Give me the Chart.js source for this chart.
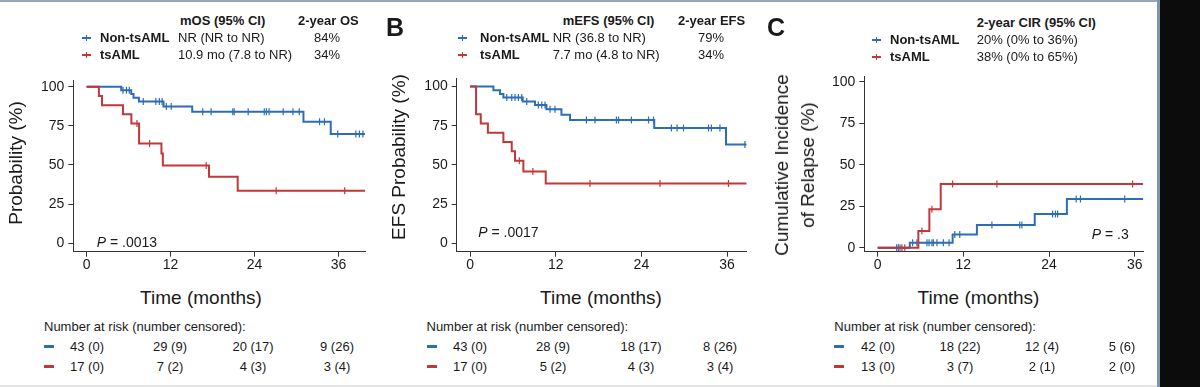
<!DOCTYPE html>
<html>
<head>
<meta charset="utf-8">
<script src="https://cdn.jsdelivr.net/npm/chart.js@4.4.1/dist/chart.umd.min.js"></script>
<style>
  html, body { margin: 0; padding: 0; background: #fff; }
  body { width: 1200px; height: 387px; position: relative; overflow: hidden;
         font-family: 'Liberation Sans', Arial, Helvetica, sans-serif; color: #1a1a1a; }
  canvas { position: absolute; }
  .t { position: absolute; white-space: nowrap; font-size: 13px; line-height: 16px; }
  .b { font-weight: bold; }
  .c { transform: translateX(-50%); }
  .ax { font-size: 19px; line-height: 24px; }
  .rot { position: absolute; white-space: nowrap; font-size: 19px; line-height: 26px; text-align: center;
         transform: translate(-50%, -50%) rotate(-90deg); }
  .letter { position: absolute; font-size: 25px; font-weight: bold; line-height: 26px; }
  .box { position: absolute; }
</style>
</head>
<body>
<canvas id="chartA" width="380" height="225" style="left:0px;top:60px"></canvas>
<canvas id="chartB" width="390" height="225" style="left:380px;top:60px"></canvas>
<canvas id="chartC" width="390" height="225" style="left:770px;top:60px"></canvas>
<script>
const BLUE = '#2d6db5';
const RED = '#c1373a';

const months = [0, 12, 24, 36];
const yTicks = [0, 25, 50, 75, 100];

// A: overall survival
const osNonT = [0, 4.95, 6.38, 6.71, 7.48, 11.0, 15.1, 31.0, 34.9, 39.8];
const osNonS = [100, 97.7, 95.3, 93.0, 90.5, 87.3, 84.0, 77.6, 69.8, 69.8];
const osNonC = [5.2, 5.7, 6.1, 8.1, 9.9, 10.4, 10.8, 11.4, 12.1, 16.6, 17.8, 20.9, 21.1, 23.1,
                25.4, 25.7, 26.1, 28.1, 29.5, 30.4, 33.3, 34.0, 35.9, 38.5, 39.0, 39.5];
const osTsT = [0, 1.76, 2.2, 5.2, 6.4, 7.5, 10.7, 10.9, 17.5, 21.6, 39.8];
const osTsS = [100, 94.1, 88.2, 82.4, 76.5, 63.7, 57.3, 49.7, 42.5, 33.6, 33.6];
const osTsC = [7.2, 9.0, 17.1, 27.1, 36.9];

// B: event-free survival
const efsNonT = [0, 3.27, 4.2, 4.67, 7.38, 9.1, 10.7, 12.8, 14.0, 25.8, 35.85, 38.75];
const efsNonS = [100, 97.7, 95.3, 93.0, 90.5, 88.2, 85.5, 82.0, 78.7, 73.5, 63.0, 63.0];
const efsNonC = [5.14, 5.84, 6.3, 6.77, 7.24, 7.94, 9.57, 10.04, 10.5, 11.2, 11.9, 16.3, 17.5,
                 20.5, 20.8, 22.6, 25.0, 25.7, 28.2, 29.0, 29.9, 33.4, 33.8, 35.0, 38.5];
const efsTsT = [0, 0.84, 1.5, 2.5, 4.67, 5.84, 6.3, 7.47, 10.6, 38.75];
const efsTsS = [100, 82.4, 76.4, 70.6, 64.7, 58.8, 52.6, 45.8, 38.2, 38.2];
const efsTsC = [6.9, 8.8, 16.8, 26.6, 36.2];

// C: cumulative incidence of relapse
const cirNonT = [0, 4.5, 10.5, 13.9, 22.0, 26.5, 37.2];
const cirNonS = [0, 3.0, 8.0, 13.7, 20.3, 29.3, 29.3];
const cirNonC = [2.66, 2.9, 3.13, 4.9, 5.5, 6.9, 7.2, 7.6, 7.8, 8.3, 9.2, 10.0, 10.8, 11.5,
                 16.0, 19.9, 20.2, 24.5, 24.9, 25.2, 27.8, 28.4, 34.6];
const cirTsT = [0, 5.7, 7.24, 8.83, 37.2];
const cirTsS = [0, 10.0, 23.1, 38.4, 38.4];
const cirTsC = [3.4, 3.8, 6.2, 7.6, 10.5, 16.7, 35.7];

// number at risk (number censored)
const riskOsNon = ['43 (0)', '29 (9)', '20 (17)', '9 (26)'];
const riskOsTs = ['17 (0)', '7 (2)', '4 (3)', '3 (4)'];
const riskEfsNon = ['43 (0)', '28 (9)', '18 (17)', '8 (26)'];
const riskEfsTs = ['17 (0)', '5 (2)', '4 (3)', '3 (4)'];
const riskCirNon = ['42 (0)', '18 (22)', '12 (4)', '5 (6)'];
const riskCirTs = ['13 (0)', '3 (7)', '2 (1)', '2 (0)'];

function stepPts(t, s) {
  return t.map((x, i) => ({x: x, y: s[i]}));
}

// censor ticks sit on the curve level at that time
function levelAt(t, s, x) {
  let v = s[0];
  for (let i = 0; i < t.length; i++) {
    if (t[i] <= x) v = s[i];
  }
  return v;
}

function censPts(c, t, s) {
  return c.map(x => ({x: x, y: levelAt(t, s, x)}));
}

function curve(t, s, color) {
  return {data: stepPts(t, s), showLine: true, stepped: true, borderColor: color,
          borderWidth: 2, pointRadius: 0, fill: false};
}

function ticksOf(c, t, s, color) {
  return {data: censPts(c, t, s), showLine: false, pointStyle: 'line', rotation: 90,
          pointRadius: 3.5, borderColor: color, borderWidth: 1.2};
}

function makePanel(id, p) {
  const ctx = document.getElementById(id).getContext('2d');
  return new Chart(ctx, {
    type: 'scatter',
    data: {
      datasets: [
        curve(p.tsT, p.tsS, RED),
        ticksOf(p.tsC, p.tsT, p.tsS, RED),
        curve(p.nonT, p.nonS, BLUE),
        ticksOf(p.nonC, p.nonT, p.nonS, BLUE),
      ],
    },
    options: {
      responsive: false,
      animation: false,
      events: [],
      layout: {padding: {left: 0, top: p.padTop, right: p.padRight, bottom: 0}},
      plugins: {legend: {display: false}, tooltip: {enabled: false}},
      scales: {
        x: {
          type: 'linear', min: p.xMin, max: p.xMax,
          afterBuildTicks: (s) => { s.ticks = months.map(v => ({value: v})); },
          afterFit: (s) => { s.height = 33.3; },
          grid: {drawOnChartArea: false, tickLength: 5, color: '#333'},
          border: {display: true, color: '#333', width: 1},
          ticks: {padding: 0, color: '#1a1a1a', font: {family: 'Liberation Sans', size: 14}},
        },
        y: {
          type: 'linear', min: p.yMin, max: p.yMax,
          afterBuildTicks: (s) => { s.ticks = yTicks.map(v => ({value: v})); },
          afterFit: (s) => { s.width = p.yWidth; },
          grid: {drawOnChartArea: false, tickLength: 5, color: '#333'},
          border: {display: true, color: '#333', width: 1},
          ticks: {padding: 4, color: '#1a1a1a', font: {family: 'Liberation Sans', size: 14}},
        },
      },
    },
  });
}

makePanel('chartA', {nonT: osNonT, nonS: osNonS, nonC: osNonC, tsT: osTsT, tsS: osTsS, tsC: osTsC,
  xMin: -1.9, xMax: 39.8, yMin: -5.4, yMax: 104.3, yWidth: 73.3, padTop: 20, padRight: 15});
makePanel('chartB', {nonT: efsNonT, nonS: efsNonS, nonC: efsNonC, tsT: efsTsT, tsS: efsTsS, tsC: efsTsC,
  xMin: -1.87, xMax: 38.75, yMin: -5.4, yMax: 105.3, yWidth: 76.7, padTop: 18.3, padRight: 23.3});
makePanel('chartC', {nonT: cirNonT, nonS: cirNonS, nonC: cirNonC, tsT: cirTsT, tsS: cirTsS, tsC: cirTsC,
  xMin: -1.87, xMax: 37.2, yMin: -2.4, yMax: 103, yWidth: 94.3, padTop: 16.7, padRight: 16.7});

// ---- text and decorations around the plots ----
function el(cls, html, left, top) {
  const d = document.createElement('div');
  d.className = cls;
  d.innerHTML = html;
  d.style.left = left + 'px';
  d.style.top = top + 'px';
  document.body.appendChild(d);
  return d;
}
function txt(html, x, cy, extra) {
  return el('t' + (extra ? ' ' + extra : ''), html, x, cy - 8);
}
function box(x, y, w, h, color) {
  const d = el('box', '', x, y);
  d.style.width = w + 'px';
  d.style.height = h + 'px';
  d.style.background = color;
}
function marker(x, cy, color) {
  box(x, cy - 1, 9, 2, color);
  box(x + 4, cy - 3, 1.2, 6, color);
}

function legend(x0, mx, nameX, valX, pctX, head1, head1X, head2, head2X, vals, pcts, hy) {
  txt(head1, head1X, hy, 'b');
  if (head2) txt(head2, head2X, hy, 'b');
  const rows = [[BLUE, 'Non-tsAML'], [RED, 'tsAML']];
  rows.forEach((r, i) => {
    const cy = hy + 17 + i * 17;
    marker(mx, cy, r[0]);
    txt(r[1], nameX, cy, 'b');
    txt(vals[i], valX, cy);
    if (pcts) txt(pcts[i], pctX, cy);
  });
}

legend(0, 82, 100, 178, 314, 'mOS (95% CI)', 180, '2-year OS', 298,
       ['NR (NR to NR)', '10.9 mo (7.8 to NR)'], ['84%', '34%'], 21);
legend(0, 458, 480, 552.7, 698, 'mEFS (95% CI)', 562.7, '2-year EFS', 678,
       ['NR (36.8 to NR)', '7.7 mo (4.8 to NR)'], ['79%', '34%'], 21);
legend(0, 872, 890, 976.7, 0, '2-year CIR (95% CI)', 976.7, null, 0,
       ['20% (0% to 36%)', '38% (0% to 65%)'], null, 22.5);

el('letter', 'B', 386, 14);
el('letter', 'C', 767, 14);

// P values
txt('<i>P</i> = .0013', 96.7, 241.7).style.fontSize = '14px';
txt('<i>P</i> = .0017', 478.3, 231.7).style.fontSize = '14px';
txt('<i>P</i> = .3', 1091.7, 234.3).style.fontSize = '14px';

// axis titles
el('t ax c', 'Time (months)', 201, 286);
el('t ax c', 'Time (months)', 601, 286);
el('t ax c', 'Time (months)', 978.5, 286);
el('rot', 'Probability (%)', 16, 163);
el('rot', 'EFS Probability (%)', 399, 157);
el('rot', 'Cumulative Incidence<br>of Relapse (%)', 795, 165);

// risk tables
function riskTable(x, cols, nonRow, tsRow) {
  txt('Number at risk (number censored):', x, 326.7);
  [[BLUE, nonRow, 346.7], [RED, tsRow, 366.7]].forEach(r => {
    box(x, r[2] - 1.5, 10, 3, r[0]);
    r[1].forEach((s, i) => txt(s, cols[i], r[2], 'c'));
  });
}
riskTable(44, [87, 170, 253, 337], riskOsNon, riskOsTs);
riskTable(426.5, [470, 553, 641, 720], riskEfsNon, riskEfsTs);
riskTable(834.3, [878, 960, 1042, 1122], riskCirNon, riskCirTs);

// frame of the screenshot
box(0, 0, 1158, 1.5, '#97a6b5');
box(1157, 0, 3, 387, '#7f95ad');
box(1160, 0, 40, 387, '#0c0c0c');
box(0, 385, 1157, 2, '#e4e4e4');
</script>
</body>
</html>
